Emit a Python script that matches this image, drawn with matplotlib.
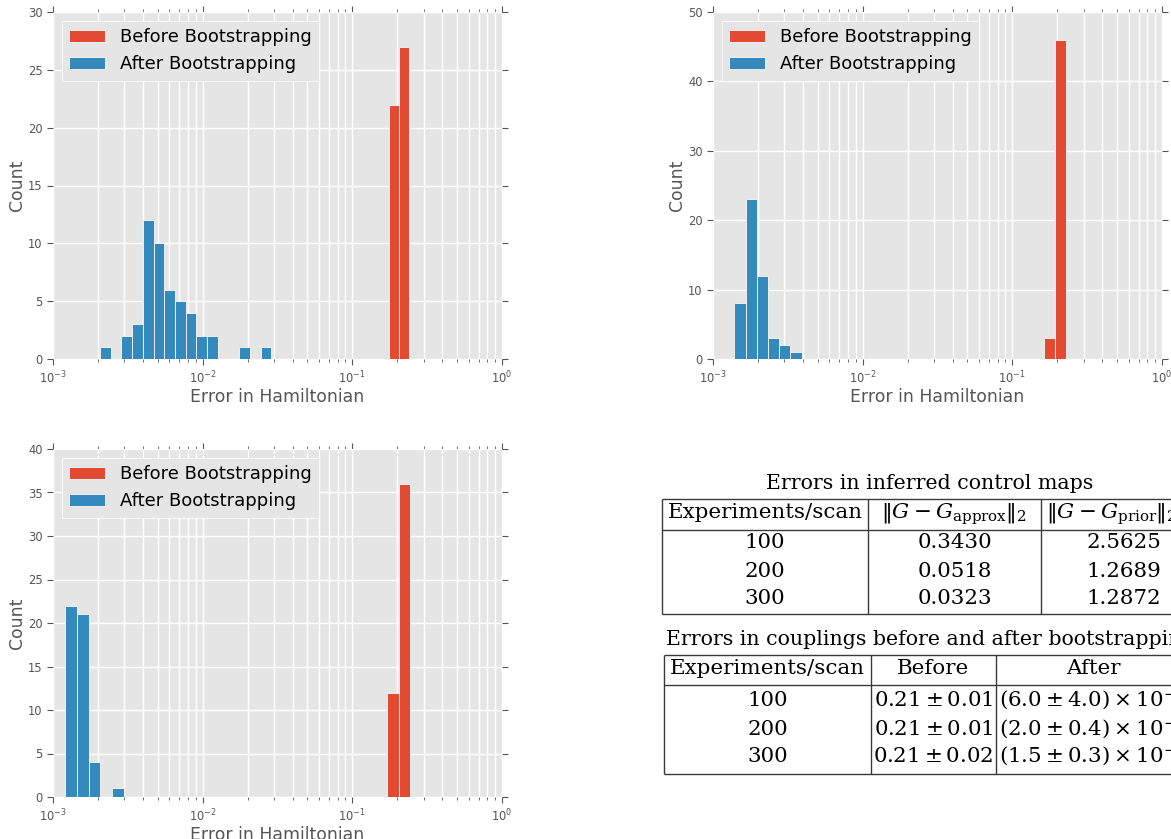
import numpy as np
import matplotlib
matplotlib.use('Agg')
import matplotlib.pyplot as plt

plt.style.use('ggplot')

# ── Data ───────────────────────────────────────────────────────────────────────
# log-spaced histogram bins: (lowest edge, highest edge) and counts per bin
BEFORE_100_RANGE  = (0.1756, 0.2406)
BEFORE_100_COUNTS = [22, 27]
AFTER_100_RANGE   = (0.002061, 0.02871)
AFTER_100_COUNTS  = [1, 0, 2, 3, 12, 10, 6, 5, 4, 2, 2, 0, 0, 1, 0, 1]

BEFORE_200_RANGE  = (0.1633, 0.2280)
BEFORE_200_COUNTS = [3, 46]
AFTER_200_RANGE   = (0.001387, 0.003914)
AFTER_200_COUNTS  = [8, 23, 12, 3, 2, 1]

BEFORE_300_RANGE  = (0.1711, 0.2425)
BEFORE_300_COUNTS = [12, 36]
AFTER_300_RANGE   = (0.001203, 0.002980)
AFTER_300_COUNTS  = [22, 21, 4, 0, 1]

YMAX   = [30, 50, 40]
YSTEP  = [5, 10, 5]

# tables
EXPERIMENTS   = ['100', '200', '300']
G_APPROX      = ['0.3430', '0.0518', '0.0323']
G_PRIOR       = ['2.5625', '1.2689', '1.2872']
BEFORE_COUPL  = [r'$0.21 \pm 0.01$', r'$0.21 \pm 0.01$', r'$0.21 \pm 0.02$']
AFTER_COUPL   = [r'$(6.0 \pm 4.0) \times 10^{-3}$', r'$(2.0 \pm 0.4) \times 10^{-3}$',
                 r'$(1.5 \pm 0.3) \times 10^{-3}$']

RED  = '#E24A33'
BLUE = '#348ABD'
W, H = 1171, 839


def log_bins(rng, counts):
    return np.logspace(np.log10(rng[0]), np.log10(rng[1]), len(counts) + 1)


def draw_hist(ax, before_rng, before_cnt, after_rng, after_cnt, ymax, ystep):
    for rng, cnt, col, lab in [(before_rng, before_cnt, RED, 'Before Bootstrapping'),
                               (after_rng, after_cnt, BLUE, 'After Bootstrapping')]:
        edges = log_bins(rng, cnt)
        ax.hist(edges[:-1], bins=edges, weights=cnt, color=col,
                edgecolor='#EEEEEE', linewidth=0.7, label=lab)
    ax.set_xscale('log')
    ax.set_xlim(1e-3, 1e0)
    ax.set_ylim(0, ymax)
    ax.set_yticks(np.arange(0, ymax + 1, ystep))
    ax.set_facecolor('#E5E5E5')
    ax.grid(True, which='major', color='white', linewidth=1.0)
    ax.grid(True, which='minor', axis='x', color='white', linewidth=1.0)
    ax.set_axisbelow(True)
    for sp in ax.spines.values():
        sp.set_visible(False)
    ax.tick_params(which='both', direction='out', top=True, right=True,
                   colors='#555555', labelsize=8.3)
    ax.tick_params(which='major', length=4)
    ax.tick_params(which='minor', length=2)
    ax.set_xlabel('Error in Hamiltonian', fontsize=12.4, color='#555555', labelpad=1.5)
    ax.set_ylabel('Count', fontsize=12.4, color='#555555', labelpad=1.5)
    ax.legend(loc='upper left', fontsize=13, fancybox=False, facecolor='#E5E5E5',
              edgecolor='white', framealpha=1, borderaxespad=0.5)


fig = plt.figure(figsize=(W / 100, H / 100), dpi=100)
fig.patch.set_facecolor('white')

ax1 = fig.add_axes([53 / W, 1 - 359 / H, 449 / W, 347 / H])
ax2 = fig.add_axes([713 / W, 1 - 359 / H, 449 / W, 347 / H])
ax3 = fig.add_axes([53 / W, 1 - 797 / H, 449 / W, 348 / H])

draw_hist(ax1, BEFORE_100_RANGE, BEFORE_100_COUNTS, AFTER_100_RANGE, AFTER_100_COUNTS, YMAX[0], YSTEP[0])
draw_hist(ax2, BEFORE_200_RANGE, BEFORE_200_COUNTS, AFTER_200_RANGE, AFTER_200_COUNTS, YMAX[1], YSTEP[1])
draw_hist(ax3, BEFORE_300_RANGE, BEFORE_300_COUNTS, AFTER_300_RANGE, AFTER_300_COUNTS, YMAX[2], YSTEP[2])

# ── Tables (pixel coordinates on an invisible overlay axes) ────────────────────
axt = fig.add_axes([0, 0, 1, 1])
axt.set_xlim(0, W)
axt.set_ylim(H, 0)
axt.axis('off')
axt.patch.set_alpha(0)

TXT = dict(family='DejaVu Serif', fontsize=15.4, color='black', va='baseline',
           math_fontfamily='dejavuserif', clip_on=False)
TITLE = dict(TXT, fontsize=14.8)
LINE = dict(color='#3a3a3a', linewidth=1.0, solid_capstyle='butt')

# table 1
axt.text(930, 489, 'Errors in inferred control maps', ha='center', **TITLE)
for y in [499, 529.5, 614]:
    axt.plot([662, 1220], [y, y], **LINE)
for x in [662, 868, 1041]:
    axt.plot([x, x], [499, 614], **LINE)
axt.text(765, 518.5, 'Experiments/scan', ha='center', **TXT)
axt.text(954, 518.5, r'$\Vert G\:-\:G_{\mathrm{approx}}\Vert_2$', ha='center', **TXT)
axt.text(1046, 518.5, r'$\Vert G\:-\:G_{\mathrm{prior}}\Vert_2$', ha='left', **TXT)
for i, yb in enumerate([548, 577, 604]):
    axt.text(765, yb, EXPERIMENTS[i], ha='center', **TXT)
    axt.text(955, yb, G_APPROX[i], ha='center', **TXT)
    axt.text(1124, yb, G_PRIOR[i], ha='center', **TXT)

# table 2
axt.text(666, 645, 'Errors in couplings before and after bootstrapping', ha='left', **TITLE)
for y in [655, 684.5, 773.5]:
    axt.plot([664, 1220], [y, y], **LINE)
for x in [664, 871, 996]:
    axt.plot([x, x], [655, 773.5], **LINE)
axt.text(767.5, 674, 'Experiments/scan', ha='center', **TXT)
axt.text(933.5, 674, 'Before', ha='center', **TXT)
axt.text(1093, 674, 'After', ha='center', **TXT)
for i, yb in enumerate([706.5, 735, 762]):
    axt.text(767.5, yb, EXPERIMENTS[i], ha='center', **TXT)
    axt.text(933.5, yb, BEFORE_COUPL[i], ha='center', **TXT)
    axt.text(999, yb, AFTER_COUPL[i], ha='left', **TXT)

fig.savefig('out.png', dpi=100)
